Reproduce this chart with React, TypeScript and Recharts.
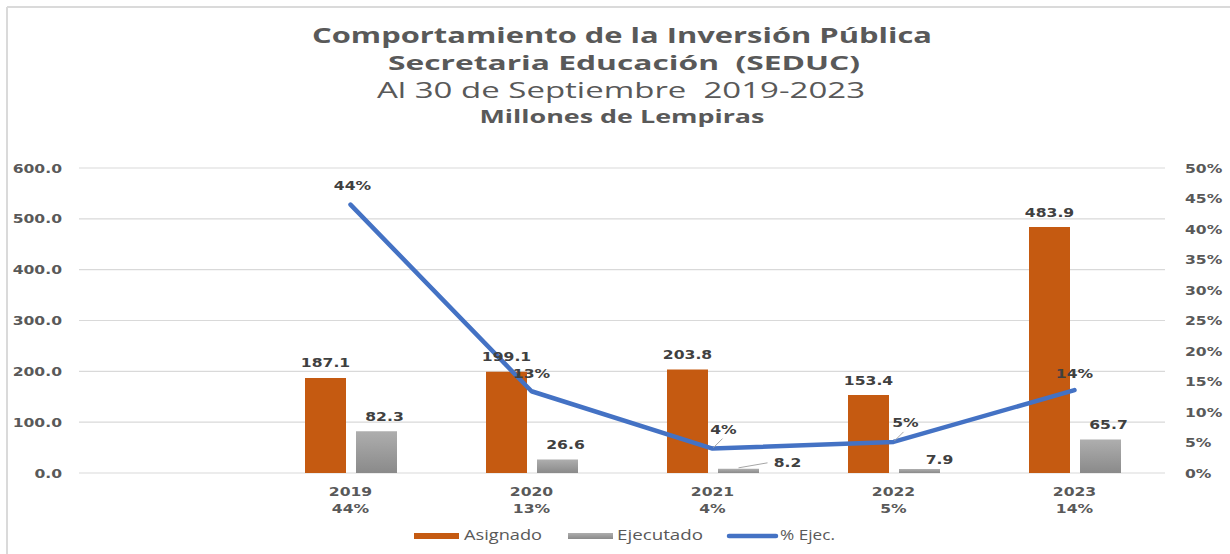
import React from 'react';
import {
  ComposedChart,
  Bar,
  Line,
  XAxis,
  YAxis,
  CartesianGrid,
  LabelList,
} from 'recharts';

// first slot is an empty category, as in the original sheet
const years = ['', '2019', '2020', '2021', '2022', '2023'];
const pctLabels = ['', '44%', '13%', '4%', '5%', '14%'];
const asignado = [null, 187.1, 199.1, 203.8, 153.4, 483.9];
const ejecutado = [null, 82.3, 26.6, 8.2, 7.9, 65.7];
const pctEjec = [null, 0.44, 0.134, 0.04, 0.051, 0.136];

const leftTicks = [0, 100, 200, 300, 400, 500, 600];
const rightTicks = [0, 0.05, 0.1, 0.15, 0.2, 0.25, 0.3, 0.35, 0.4, 0.45, 0.5];

const chartData = years.map((year, i) => ({
  year,
  asignado: asignado[i],
  ejecutado: ejecutado[i],
  pct: pctEjec[i],
}));

const ORANGE = '#C55A11';
const BLUE = '#4472C4';
const AXIS_TXT = '#595959';
const LABEL_TXT = '#404040';
const SX = 1.3;

function SText({ x, y, anchor = 'middle', size = 12, weight = 700, fill = AXIS_TXT, children }: any) {
  return (
    <text
      transform={`translate(${x} ${y}) scale(${SX} 1)`}
      textAnchor={anchor}
      fontSize={size}
      fontWeight={weight}
      fill={fill}
      fontFamily='"DejaVu Sans", Verdana, sans-serif'
    >
      {children}
    </text>
  );
}

const LeftTick = ({ x, y, payload }: any) => (
  <SText x={x - 17} y={y + 4.5} anchor="end">{payload.value.toFixed(1)}</SText>
);

const RightTick = ({ x, y, payload }: any) => (
  <SText x={x + 20} y={y + 4.5} anchor="start">{Math.round(payload.value * 100) + '%'}</SText>
);

const XTick = ({ x, y, payload, index }: any) => {
  if (!payload.value) return null;
  return (
    <g>
      <SText x={x} y={y + 23}>{payload.value}</SText>
      <SText x={x} y={y + 40}>{pctLabels[index]}</SText>
    </g>
  );
};

const AsigLabel = ({ x, y, width, value }: any) => {
  if (value == null) return null;
  return <SText x={x + width / 2} y={y - 10.5} fill={LABEL_TXT}>{value.toFixed(1)}</SText>;
};

// the label list skips empty slots, so look the category up by value
const EjecLabel = ({ x, y, width, value }: any) => {
  if (value == null) return null;
  const i = ejecutado.indexOf(value);
  const cx = x + width / 2;
  if (i === 3) {
    return (
      <g>
        <line x1={cx} y1={y - 1} x2={cx + 29} y2={y - 6} stroke="#a6a6a6" strokeWidth={1} />
        <SText x={cx + 49} y={y - 1.5} fill={LABEL_TXT}>{value.toFixed(1)}</SText>
      </g>
    );
  }
  if (i === 4) {
    return <SText x={cx + 20} y={y - 5} fill={LABEL_TXT}>{value.toFixed(1)}</SText>;
  }
  return <SText x={cx + 8} y={y - 10.5} fill={LABEL_TXT}>{value.toFixed(1)}</SText>;
};

const pctOffsets: Record<number, number[]> = { 1: [2, -19], 2: [0, -18], 3: [11, -19], 4: [12, -19], 5: [0, -17] };

const PctLabel = ({ x, y, value }: any) => {
  if (value == null) return null;
  const i = pctEjec.indexOf(value);
  const [dx, dy] = pctOffsets[i] || [0, -18];
  const leader = i === 3 || i === 4;
  return (
    <g>
      {leader && <line x1={x + 1} y1={y - 1} x2={x + 10} y2={y - 10} stroke="#a6a6a6" strokeWidth={1} />}
      <SText x={x + dx} y={y + dy + 4.5} fill={LABEL_TXT}>{Math.round(value * 100) + '%'}</SText>
    </g>
  );
};

export default function App() {
  const titleFont = '"Open Sans", sans-serif';
  return (
    <div style={{ position: 'absolute', left: 0, top: 0, width: 1230, height: 554, background: '#fff' }}>
      <ComposedChart
        width={1230}
        height={554}
        data={chartData}
        margin={{ top: 168, right: 0, bottom: 0, left: 0 }}
        barGap={10}
      >
        <defs>
          <linearGradient id="grayBar" x1="0" y1="0" x2="0" y2="1">
            <stop offset="0%" stopColor="#AEAEAE" />
            <stop offset="100%" stopColor="#8A8A8A" />
          </linearGradient>
        </defs>
        <CartesianGrid yAxisId="left" vertical={false} stroke="#d9d9d9" strokeWidth={1.2} />
        <XAxis
          dataKey="year"
          axisLine={false}
          tickLine={false}
          tickSize={0}
          tickMargin={0}
          interval={0}
          height={81}
          tick={<XTick />}
        />
        <YAxis
          yAxisId="left"
          domain={[0, 600]}
          ticks={leftTicks}
          width={79}
          axisLine={false}
          tickLine={false}
          tickSize={0}
          tickMargin={0}
          tick={<LeftTick />}
        />
        <YAxis
          yAxisId="right"
          orientation="right"
          domain={[0, 0.5]}
          ticks={rightTicks}
          width={65}
          axisLine={false}
          tickLine={false}
          tickSize={0}
          tickMargin={0}
          tick={<RightTick />}
        />
        <Bar yAxisId="left" dataKey="asignado" fill={ORANGE} barSize={41} isAnimationActive={false}>
          <LabelList dataKey="asignado" content={<AsigLabel />} />
        </Bar>
        <Bar yAxisId="left" dataKey="ejecutado" fill="url(#grayBar)" barSize={41} isAnimationActive={false}>
          <LabelList dataKey="ejecutado" content={<EjecLabel />} />
        </Bar>
        <Line
          yAxisId="right"
          type="linear"
          dataKey="pct"
          stroke={BLUE}
          strokeWidth={4.5}
          strokeLinecap="round"
          strokeLinejoin="round"
          dot={false}
          activeDot={false}
          isAnimationActive={false}
        >
          <LabelList dataKey="pct" content={<PctLabel />} />
        </Line>
      </ComposedChart>

      <svg
        width={1230}
        height={554}
        style={{ position: 'absolute', left: 0, top: 0, pointerEvents: 'none' }}
      >
        <defs>
          <linearGradient id="legendGray" x1="0" y1="0" x2="0" y2="1">
            <stop offset="0%" stopColor="#AEAEAE" />
            <stop offset="100%" stopColor="#8A8A8A" />
          </linearGradient>
        </defs>
        <line x1={7} y1={7} x2={1230} y2={7} stroke="#dadada" strokeWidth={2} />
        <line x1={7} y1={7} x2={7} y2={554} stroke="#dadada" strokeWidth={2} />

        <g fill={AXIS_TXT} fontFamily={titleFont} textAnchor="middle">
          <text x={622} y={43} fontSize={21} fontWeight={700} textLength={620} lengthAdjust="spacingAndGlyphs">
            Comportamiento de la Inversión Pública
          </text>
          <text x={624} y={70} fontSize={20} fontWeight={700} textLength={472} lengthAdjust="spacingAndGlyphs" style={{ whiteSpace: 'pre' }}>
            Secretaria Educación  (SEDUC)
          </text>
          <text x={621} y={98} fontSize={21} fontWeight={400} textLength={488} lengthAdjust="spacingAndGlyphs" style={{ whiteSpace: 'pre' }}>
            Al 30 de Septiembre  2019-2023
          </text>
          <text x={622} y={123} fontSize={17} fontWeight={700} textLength={285} lengthAdjust="spacingAndGlyphs">
            Millones de Lempiras
          </text>
        </g>

        <g fontFamily={titleFont} fontSize={15} fill={AXIS_TXT}>
          <rect x={414} y={533} width={45} height={6} fill={ORANGE} />
          <text x={464} y={540} textLength={78} lengthAdjust="spacingAndGlyphs">Asignado</text>
          <rect x={568} y={533} width={45} height={6} fill="url(#legendGray)" />
          <text x={617} y={540} textLength={86} lengthAdjust="spacingAndGlyphs">Ejecutado</text>
          <line x1={729} y1={536} x2={776} y2={536} stroke={BLUE} strokeWidth={4.5} strokeLinecap="round" />
          <text x={780} y={540} textLength={55} lengthAdjust="spacingAndGlyphs">% Ejec.</text>
        </g>
      </svg>
    </div>
  );
}
